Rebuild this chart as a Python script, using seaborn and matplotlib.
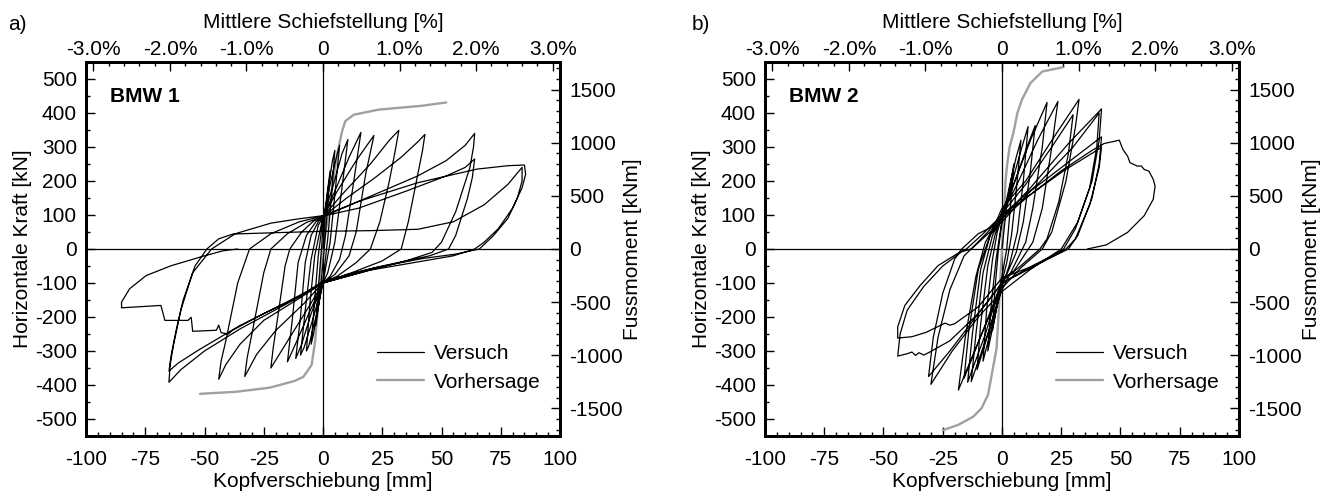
import numpy as np
import pandas as pd
import matplotlib
matplotlib.use('Agg')
import matplotlib.pyplot as plt
import seaborn as sns
from matplotlib.ticker import MultipleLocator

# ---------------------------------------------------------------
# Data (x = Kopfverschiebung [mm], y = Kraft [kN])
# ---------------------------------------------------------------
bmw1_test = [
    (0, 0), (1.5, 150), (3, 230), (2, 130), (1, 40), (0, -40), (-1.5, -150), (-3, -225), (-2, -120), (-1, -30), (0, 60),
    (2, 170), (4, 260), (5, 290), (3.5, 150), (2, 30), (0, -90), (-2, -170), (-4, -250), (-5, -280), (-3.5, -150), (-2, -20), (0, 90),
    (3, 190), (6, 280), (7, 305), (5, 160), (3, 20), (0, -100), (-3, -200), (-6, -285), (-7, -300), (-5.5, -160), (-3.5, -20), (0, 95),
    (4, 180), (8, 280), (10.5, 322), (8, 180), (5, 20), (2, -70), (0, -100), (-4, -200), (-8, -290), (-9.5, -312), (-7.5, -180), (-5, -30), (-2, 70), (0, 92),
    (5, 170), (11, 270), (16, 343), (13, 200), (9.5, 40), (7, -30), (3, -80), (0, -100), (-5, -190), (-9, -280), (-11.5, -322), (-9.5, -200), (-7.5, -40), (-5, 40), (-2, 80), (0, 95),
    (6, 170), (14, 260), (21.5, 334), (18, 220), (14, 50), (11, -20), (5, -75), (0, -100), (-6, -190), (-11, -270), (-15, -332), (-13, -210), (-10.5, -40), (-7, 40), (-3, 80), (0, 95),
    (8, 160), (20, 250), (28, 320), (32, 349), (30.5, 290), (28, 200), (24, 80), (20, 0), (14, -40), (6, -80), (0, -100), (-6, -170), (-14, -260), (-22, -350), (-21, -290), (-19.5, -220), (-16, -50), (-14, 0), (-9, 50), (-4, 82), (0, 95),
    (10, 150), (22, 210), (33, 270), (40, 315), (43, 337), (42, 290), (40, 220), (36, 80), (33, 0), (25, -35), (12, -70), (0, -100), (-8, -160), (-20, -240), (-28, -310), (-33, -375), (-32, -320), (-30, -250), (-25, -70), (-22, 0), (-15, 45), (-7, 78), (0, 95),
    (10, 125), (25, 170), (40, 215), (52, 260), (60, 305), (64, 340), (63.5, 300), (62, 240), (56, 110), (50, 20), (46, -10), (35, -35), (18, -65), (0, -100), (-10, -145), (-25, -210), (-35, -280), (-41, -340), (-44, -383), (-43, -330), (-41, -270), (-36, -100), (-31, 0), (-22, 45), (-10, 80), (0, 97),
    (15, 120), (35, 170), (52, 215), (60, 240), (64, 265), (63, 210), (61, 150), (56, 40), (53, 0), (45, -20), (25, -50), (10, -75), (0, -100), (-15, -160), (-35, -235), (-50, -300), (-60, -355), (-65, -392), (-64.5, -340), (-63, -280), (-60, -180), (-55, -70), (-47, 0), (-37, 45), (-22, 76), (-11, 88), (0, 98),
    (15, 140), (40, 195), (65, 235), (78, 245), (85, 247), (85.5, 220), (84, 180), (80, 120), (74, 60), (68, 20), (64, 0), (55, -20), (40, -38), (20, -62), (0, -100),
    (-15, -155), (-35, -225), (-52, -295), (-61, -335), (-65, -359), (-64, -310), (-62, -240), (-59, -150), (-54, -50), (-49, 0), (-44, 30), (-38, 44), (-20, 48), (0, 52), (20, 54), (40, 58), (55, 80), (68, 130), (78, 190), (84, 240),
    (84, 200), (82, 150), (78, 90), (72, 40), (66, 0), (56, -15), (42, -28), (22, -55), (0, -95),
    (-10, -140), (-25, -190), (-38, -238), (-40, -250), (-43, -246), (-44, -224), (-45, -239), (-55, -242), (-55.6, -201), (-57, -210), (-66.7, -210), (-68.4, -166), (-85, -173), (-85, -156), (-81.6, -117), (-74.6, -78), (-64, -49), (-50, -20), (-42, -5), (-36, 0),
]

bmw1_pred = [
    (-51.9, -426), (-36.8, -420), (-22.6, -408), (-11.9, -388), (-8.3, -376), (-4.8, -341), (-3.3, -270), (-2.5, -200), (-1.5, -100), (0, 0),
    (2, 90), (4, 185), (5.3, 250), (6.7, 302), (8, 345), (9.4, 376), (13, 395), (23.6, 410), (41.4, 421), (52, 431),
]

bmw2_test = [
    (0, 0), (2, 130), (5, 250), (3.5, 120), (2, 0), (0, -80), (-2, -160), (-4, -240), (-3, -120), (-1.5, 0), (0, 80),
    (3, 180), (6, 270), (8, 320), (6, 170), (4, 40), (2, -40), (0, -95), (-3, -200), (-6, -300), (-4.5, -160), (-2.5, -30), (0, 85),
    (4, 190), (8, 290), (11, 360), (9, 200), (6.5, 50), (3, -50), (0, -110), (-4, -220), (-8, -330), (-6.5, -180), (-4, -30), (-2, 50), (0, 95),
    (5, 190), (10, 290), (14, 363), (12, 230), (9, 80), (6, -10), (2, -75), (0, -105), (-5, -230), (-10.5, -355), (-9, -220), (-6, -50), (-3, 40), (0, 110),
    (6, 210), (12, 320), (19, 431), (17, 300), (13, 120), (10, 20), (4, -65), (0, -120), (-6, -250), (-13, -390), (-11, -250), (-8, -70), (-4, 40), (0, 100),
    (7, 200), (15, 320), (23.6, 434), (21, 300), (17, 120), (13, 20), (5, -65), (0, -90), (-7, -250), (-14.5, -392), (-12.5, -250), (-9, -60), (-5, 40), (0, 120),
    (10, 200), (22, 330), (32.5, 440), (31, 360), (27, 200), (21, 50), (17, 0), (8, -55), (0, -115), (-8, -240), (-18.4, -415), (-15.5, -260), (-11, -80), (-7, 20), (-3, 70), (0, 105),
    (10, 190), (21, 300), (30, 395), (28, 280), (24, 140), (19, 30), (16, 0), (7, -55), (0, -95), (-8, -240), (-16, -380), (-14, -240), (-10, -60), (-5, 40), (0, 90),
    (12, 180), (28, 310), (42, 412), (41, 320), (38, 200), (32, 80), (25, 0), (12, -60), (0, -125), (-10, -200), (-21, -300), (-30, -398), (-27, -260), (-22, -120), (-16, -20), (-13, 0), (-6, 50), (0, 100),
    (15, 190), (30, 300), (41, 400), (40, 300), (37, 180), (31, 60), (26, 0), (14, -50), (0, -100), (-10, -190), (-22, -300), (-31, -375), (-29, -260), (-25, -130), (-20, -30), (-17, 0), (-10, 45), (0, 80),
    (12, 170), (27, 250), (42, 330), (41, 250), (38, 150), (32, 40), (28, 0), (15, -45), (0, -85), (-10, -170), (-20, -220), (-22, -224), (-24, -218), (-32, -245), (-38, -258), (-44, -262), (-44, -229), (-41, -166), (-34.5, -107), (-27, -49), (-18, -10), (-15, 0), (-8, 45), (0, 100),
    (12, 160), (26, 230), (40, 290), (42, 300), (41, 240), (37, 130), (31, 30), (27, 0), (14, -45), (0, -100), (-10, -190), (-22, -270), (-31, -305), (-33, -312), (-35, -305), (-36.5, -313), (-38, -303), (-40, -308), (-44, -315), (-43, -250), (-40, -180), (-33, -110), (-25, -50), (-17, -8), (-13, 0), (-5, 50), (0, 90),
    (12, 160), (25, 230), (38, 290), (43, 310), (49.5, 320), (51, 293), (53, 273), (54, 254), (57, 244), (58.8, 244), (60, 234), (62, 229), (63.8, 205), (64.6, 185), (63.8, 146), (60, 98), (53, 49), (44, 12), (36, 0),
]

bmw2_pred = [
    (-25, -533), (-18.4, -517), (-12.1, -493), (-8.6, -468), (-5.9, -429), (-4.1, -361), (-2.3, -293), (-1.5, -200), (-0.8, -100), (0, 0),
    (0.8, 100), (1.5, 200), (2.1, 244), (3.2, 300), (4.8, 341), (6.5, 400), (8.4, 439), (12, 488), (17, 522), (26, 535),
]

x_ticks = [-100, -75, -50, -25, 0, 25, 50, 75, 100]
y_ticks = [-500, -400, -300, -200, -100, 0, 100, 200, 300, 400, 500]
moment_ticks = [-1500, -1000, -500, 0, 500, 1000, 1500]
pct_ticks = [-3, -2, -1, 0, 1, 2, 3]
pct_labels = ['-3.0%', '-2.0%', '-1.0%', '0', '1.0%', '2.0%', '3.0%']

lever_arm = 3.2      # kNm per kN
mm_per_pct = 32.3    # mm per 1 % drift

# ---------------------------------------------------------------
sns.set_theme(style='ticks')
plt.rcParams['font.family'] = ['Liberation Sans', 'DejaVu Sans']
plt.rcParams['axes.unicode_minus'] = False
plt.rcParams['font.size'] = 15
for key in ['text.color', 'axes.labelcolor', 'xtick.color', 'ytick.color', 'axes.edgecolor']:
    plt.rcParams[key] = 'black'

fig = plt.figure(figsize=(13.27, 4.95), dpi=100)

W, H = 1327, 495
panels = [
    (86, bmw1_test, bmw1_pred, 'BMW 1', 'a)', 8),
    (765, bmw2_test, bmw2_pred, 'BMW 2', 'b)', 692),
]


def style_ticks(a, pad):
    a.tick_params(direction='in', which='major', length=6.3, width=1.0,
                  labelsize=15, pad=pad, colors='black')
    a.tick_params(direction='in', which='minor', length=3.1, width=1.0)


for left_px, test, pred, name, letter, letter_px in panels:
    ax = fig.add_axes([left_px / W, 1 - 436 / H, 474 / W, 374 / H])

    test_df = pd.DataFrame(test, columns=['disp', 'force'])
    pred_df = pd.DataFrame(pred, columns=['disp', 'force'])

    ax.axhline(0, color='black', lw=0.9, zorder=1)
    ax.axvline(0, color='black', lw=0.9, zorder=1)

    sns.lineplot(data=test_df, x='disp', y='force', sort=False, estimator=None,
                 color='black', lw=0.9, ax=ax, label='Versuch', zorder=3)
    sns.lineplot(data=pred_df, x='disp', y='force', sort=False, estimator=None,
                 color='#a0a0a0', lw=1.7, ax=ax, label='Vorhersage', zorder=2)

    ax.set_xlim(-100, 100)
    ax.set_ylim(-550, 550)
    ax.set_xticks(x_ticks)
    ax.set_yticks(y_ticks)
    ax.xaxis.set_minor_locator(MultipleLocator(5))
    ax.yaxis.set_minor_locator(MultipleLocator(50))
    ax.set_xlabel('Kopfverschiebung [mm]', fontsize=15, labelpad=2)
    ax.set_ylabel('Horizontale Kraft [kN]', fontsize=15, labelpad=2)
    ax.tick_params(axis='x', which='both', top=False)
    ax.tick_params(axis='y', which='both', right=False)
    style_ticks(ax, 6.5)
    ax.tick_params(axis='x', pad=10)
    ax.grid(False)

    for sp in ax.spines.values():
        sp.set_linewidth(2.0)
        sp.set_color('black')

    ax.text(-90, 449, name, fontsize=15, fontweight='bold', va='center', ha='left', color='black')

    ax.legend(loc='upper left', bbox_to_anchor=(0.6135, 0.245), frameon=False,
              borderpad=0, borderaxespad=0, handlelength=2.25, handletextpad=0.5,
              labelspacing=0.45, fontsize=15)

    # right axis: Fussmoment
    ax_r = ax.twinx()
    ax_r.set_ylim(-550 * lever_arm, 550 * lever_arm)
    ax_r.set_yticks(moment_ticks)
    ax_r.yaxis.set_minor_locator(MultipleLocator(100))
    ax_r.set_ylabel('Fussmoment [kNm]', fontsize=15, labelpad=0)
    style_ticks(ax_r, 6.5)
    ax_r.grid(False)

    # top axis: Mittlere Schiefstellung
    ax_t = ax.twiny()
    ax_t.set_xlim(-100 / mm_per_pct, 100 / mm_per_pct)
    ax_t.set_xticks(pct_ticks)
    ax_t.set_xticklabels(pct_labels)
    ax_t.xaxis.set_minor_locator(MultipleLocator(0.2))
    ax_t.set_xlabel('Mittlere Schiefstellung [%]', fontsize=15, labelpad=9)
    style_ticks(ax_t, 2)
    ax_t.grid(False)

    for a in (ax_r, ax_t):
        for sp in a.spines.values():
            sp.set_linewidth(2.0)
            sp.set_color('black')

    fig.text(letter_px / W, 1 - 25 / H, letter, fontsize=15, va='center', ha='left')

fig.savefig('out.png', dpi=100)
